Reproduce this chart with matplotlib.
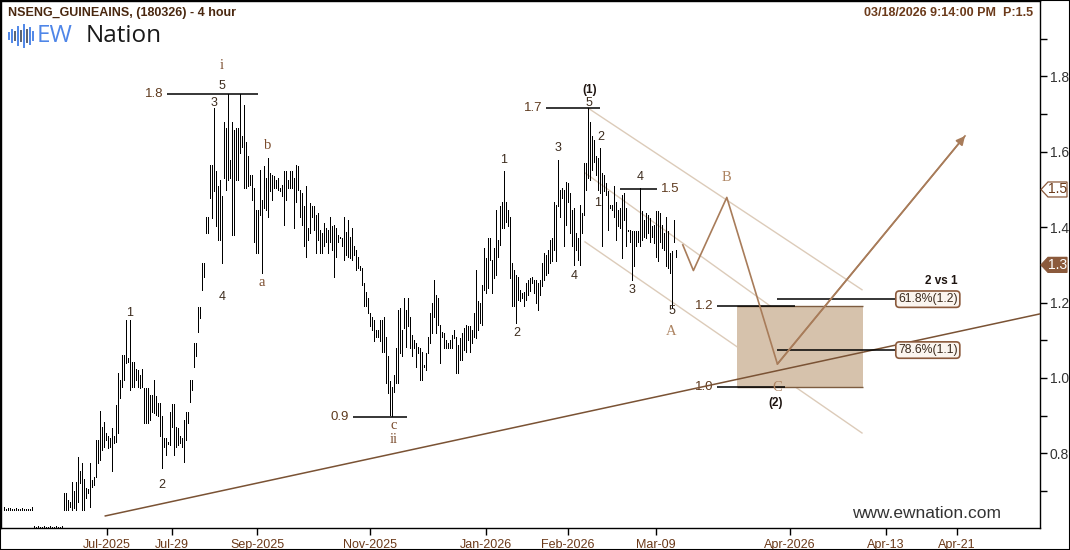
import numpy as np
import matplotlib as mpl
mpl.use('Agg')
import matplotlib.pyplot as plt
from matplotlib.patches import Rectangle, Polygon
from matplotlib.lines import Line2D

mpl.rcParams['font.family'] = ['Liberation Sans', 'DejaVu Sans']

#=========================================================================
# data : 4-hour high/low bars, x = bar number
#=========================================================================
title = 'NSENG_GUINEAINS, (180326) - 4 hour'
stamp = '03/18/2026 9:14:00 PM  P:1.5'
first_bar = -30

highs = [
    # flat start
    0.657, 0.653, 0.656, 0.656, 0.653, 0.652, 0.656, 0.653, 0.652, 0.656,
    0.653, 0.652, 0.653, 0.652, 0.658, 0.606, 0.605, 0.606, 0.605, 0.605,
    0.606, 0.605, 0.605, 0.606, 0.605, 0.605, 0.606, 0.605, 0.605, 0.606,
    # rally to i
    0.694, 0.694, 0.677, 0.672, 0.725, 0.700, 0.725, 0.791, 0.752, 0.774,
    0.731, 0.708, 0.705, 0.774, 0.730, 0.738, 0.836, 0.836, 0.913, 0.871,
    0.884, 0.853, 0.845, 0.840, 0.867, 0.845, 0.929, 1.012, 0.995, 1.061,
    1.061, 1.154, 1.052, 1.154, 1.043, 1.043, 1.023, 1.021, 1.008, 1.023,
    0.973, 0.973, 0.973, 0.955, 0.955, 0.995, 0.951, 0.933, 0.933, 0.898,
    0.840, 0.840, 0.831, 0.911, 0.930, 0.930, 0.871, 0.867, 0.845, 0.840,
    0.889, 0.911, 0.911, 0.995, 0.995, 1.092, 1.092, 1.189, 1.189,
    1.306, 1.306, 1.428, 1.428, 1.566, 1.566, 1.716, 1.548, 1.508, 1.526,
    1.482, 1.680, 1.663, 1.753, 1.579, 1.680, 1.658, 1.663, 1.663, 1.753,
    # a-b-c down to ii
    1.641, 1.725, 1.627, 1.588, 1.539, 1.539, 1.504, 1.446, 1.446, 1.552,
    1.473, 1.561, 1.530, 1.583, 1.543, 1.539, 1.535, 1.526, 1.530, 1.504,
    1.512, 1.548, 1.548, 1.526, 1.548, 1.548, 1.530, 1.566, 1.561, 1.499,
    1.490, 1.455, 1.508, 1.398, 1.464, 1.455, 1.455, 1.433, 1.437, 1.393,
    1.384, 1.411, 1.398, 1.393,
    1.428, 1.402, 1.406, 1.397, 1.380, 1.375, 1.371, 1.428, 1.388, 1.419,
    1.375, 1.397, 1.349, 1.340, 1.322, 1.296, 1.291, 1.251, 1.229, 1.212,
    1.172, 1.163, 1.154, 1.128, 1.128, 1.154, 1.154, 1.163, 1.110, 1.057,
    0.991, 0.977, 1.008, 1.079, 1.181, 1.185, 1.128, 1.212, 1.181, 1.212,
    1.163, 1.114, 1.101, 1.092, 1.083, 1.079, 1.070, 1.035, 1.066, 1.110,
    1.172, 1.198, 1.260, 1.220, 1.212, 1.141, 1.123, 1.119, 1.101, 1.092,
    1.101, 1.114, 1.128, 1.110, 1.088, 1.106, 1.119, 1.132, 1.141, 1.137,
    # wave (1)
    1.137, 1.128, 1.172, 1.287, 1.203, 1.198, 1.247, 1.344, 1.318, 1.371,
    1.371, 1.313, 1.344, 1.446, 1.366, 1.455, 1.468, 1.548, 1.468, 1.446,
    1.428, 1.305, 1.287, 1.274, 1.269, 1.234, 1.225, 1.229, 1.251, 1.260,
    1.265, 1.269, 1.261, 1.261, 1.252, 1.261, 1.305, 1.331, 1.327, 1.340,
    1.367, 1.371, 1.468, 1.459, 1.579, 1.499, 1.504, 1.499, 1.521, 1.517,
    1.490, 1.446, 1.451, 1.384, 1.371, 1.459, 1.437, 1.570, 1.570, 1.716,
    # wave A
    1.680, 1.641, 1.632, 1.588, 1.583, 1.610, 1.543, 1.539, 1.517, 1.495,
    1.459, 1.459, 1.508, 1.468, 1.446, 1.451, 1.486, 1.490, 1.451, 1.393,
    1.393, 1.389, 1.389, 1.389, 1.389, 1.504, 1.442, 1.420, 1.437, 1.433,
    1.424, 1.402, 1.406, 1.442, 1.442, 1.437, 1.406, 1.384, 1.428, 1.389,
    1.331, 1.336, 1.420, 1.340]

lows = [
    0.650, 0.650, 0.650, 0.650, 0.650, 0.650, 0.650, 0.650, 0.650, 0.650,
    0.650, 0.650, 0.650, 0.650, 0.650, 0.603, 0.603, 0.603, 0.603, 0.603,
    0.603, 0.603, 0.603, 0.603, 0.603, 0.603, 0.603, 0.603, 0.603, 0.603,
    0.650, 0.650, 0.650, 0.659, 0.650, 0.655, 0.650, 0.672, 0.721, 0.650,
    0.650, 0.681, 0.694, 0.659, 0.712, 0.716, 0.738, 0.774, 0.783, 0.809,
    0.818, 0.836, 0.814, 0.818, 0.752, 0.827, 0.831, 0.853, 0.946, 0.977,
    0.995, 1.039, 1.043, 0.968, 0.977, 0.977, 0.995, 0.977, 0.973, 0.977,
    0.880, 0.880, 0.880, 0.889, 0.911, 0.906, 0.902, 0.898, 0.845, 0.761,
    0.818, 0.796, 0.825, 0.822, 0.871, 0.796, 0.818, 0.822, 0.827, 0.818,
    0.778, 0.836, 0.880, 0.937, 0.968, 1.030, 1.057, 1.123, 1.158,
    1.234, 1.269, 1.384, 1.384, 1.477, 1.424, 1.495, 1.402, 1.367, 1.367,
    1.305, 1.530, 1.499, 1.526, 1.530, 1.380, 1.380, 1.526, 1.526, 1.596,
    1.614, 1.504, 1.504, 1.508, 1.512, 1.473, 1.362, 1.331, 1.331, 1.433,
    1.278, 1.451, 1.446, 1.428, 1.495, 1.473, 1.504, 1.504, 1.499, 1.495,
    1.482, 1.406, 1.473, 1.504, 1.504, 1.504, 1.398, 1.468, 1.499, 1.428,
    1.406, 1.349, 1.322, 1.367, 1.384, 1.428, 1.393, 1.331, 1.367, 1.331,
    1.331, 1.349, 1.362, 1.331,
    1.362, 1.340, 1.269, 1.322, 1.362, 1.371, 1.349, 1.313, 1.327, 1.322,
    1.318, 1.313, 1.327, 1.287, 1.291, 1.287, 1.247, 1.190, 1.190, 1.172,
    1.137, 1.128, 1.097, 1.110, 1.110, 1.097, 1.070, 1.070, 0.986, 0.960,
    0.902, 0.898, 0.964, 0.986, 0.986, 1.066, 1.057, 1.132, 1.083, 1.137,
    1.079, 1.057, 1.079, 1.030, 1.066, 0.995, 0.995, 1.030, 1.022, 1.066,
    1.092, 1.119, 1.163, 1.119, 1.141, 1.039, 1.110, 1.079, 1.079, 1.079,
    1.079, 1.079, 1.106, 1.013, 1.013, 1.048, 1.048, 1.075, 1.070, 1.101,
    1.070, 1.092, 1.110, 1.106, 1.128, 1.145, 1.141, 1.234, 1.225, 1.238,
    1.313, 1.225, 1.265, 1.274, 1.322, 1.353, 1.397, 1.397, 1.415, 1.402,
    1.265, 1.190, 1.190, 1.145, 1.207, 1.203, 1.212, 1.190, 1.207, 1.220,
    1.230, 1.252, 1.225, 1.199, 1.181, 1.221, 1.243, 1.261, 1.274, 1.278,
    1.305, 1.309, 1.340, 1.309, 1.455, 1.428, 1.477, 1.349, 1.406, 1.468,
    1.384, 1.349, 1.300, 1.340, 1.314, 1.300, 1.384, 1.433, 1.499, 1.530,
    1.526, 1.552, 1.574, 1.539, 1.499, 1.490, 1.349, 1.495, 1.486, 1.393,
    1.451, 1.446, 1.428, 1.367, 1.402, 1.398, 1.318, 1.420, 1.349, 1.389,
    1.362, 1.261, 1.296, 1.349, 1.362, 1.349, 1.367, 1.375, 1.371, 1.384,
    1.362, 1.375, 1.358, 1.322, 1.309, 1.362, 1.345, 1.340, 1.296, 1.291,
    1.278, 1.185, 1.362, 1.322]

# date axis (bar numbers of the labelled dates)
tick_bars   = [21.5, 54, 96.5, 153, 211, 252, 296, 363, 411, 446.5]
tick_labels = ['Jul-2025', 'Jul-29', 'Sep-2025', 'Nov-2025', 'Jan-2026',
               'Feb-2026', 'Mar-09', 'Apr-2026', 'Apr-13', 'Apr-21']

# projected path A-B-C then up
proj_x = [309.4, 314.7, 331.4, 356.7]
proj_y = [1.353, 1.285, 1.479, 1.037]
arrow_end = (450.5, 1.642)

# price levels : (value, from bar, to bar, label)
levels = [(1.753,  51.5,  97.0, '1.8'),
          (1.716, 241.0, 268.0, '1.7'),
          (1.502, 278.0, 296.5, '1.5'),
          (0.897, 144.5, 171.5, '0.9'),
          (1.190, 326.5, 365.5, '1.2'),
          (0.977, 326.5, 360.5, '1.0')]

# fib retracement of wave (1)
fib_vals   = [1.209, 1.074]
fib_labels = ['61.8%(1.2)', '78.6%(1.1)']
fib_from, fib_to = 356.5, 415.5

# target zone
zone_x0, zone_x1 = 336.5, 399.5
zone_lo, zone_hi = 0.975, 1.192

# trend line and descending channel
trend_x = [20.65, 488.0]
trend_y = [0.634, 1.170]
chan_x  = [[262.0, 399.0], [260.5, 399.0], [260.5, 399.0]]
chan_y  = [[1.716, 1.234], [1.544, 1.016], [1.361, 0.854]]

# wave counts : (text, bar, price, kind)
waves = [('i',   79.0, 1.828, 'rom'), ('5',   79.0, 1.775, 'num'),
         ('3',   75.0, 1.730, 'num'), ('b',  102.0, 1.616, 'rom'),
         ('a',   99.0, 1.252, 'rom'), ('4',   79.0, 1.215, 'num'),
         ('1',   33.0, 1.173, 'num'), ('2',   49.0, 0.716, 'num'),
         ('c',  165.0, 0.873, 'rom'), ('ii', 165.0, 0.836, 'rom'),
         ('1',  220.0, 1.578, 'num'), ('2',  226.5, 1.120, 'num'),
         ('3',  247.0, 1.610, 'num'), ('4',  255.0, 1.271, 'num'),
         ('(1)', 263.0, 1.764, 'bold'), ('5', 262.5, 1.730, 'num'),
         ('2',  268.5, 1.640, 'num'), ('1',  267.0, 1.464, 'num'),
         ('4',  288.0, 1.533, 'num'), ('3',  284.0, 1.234, 'num'),
         ('5',  304.0, 1.178, 'num'), ('A',  303.5, 1.122, 'abc'),
         ('B',  331.0, 1.533, 'abc'), ('C',  356.5, 0.976, 'abc'),
         ('(2)', 356.0, 0.934, 'bold')]

last_price = 1.3
p_price = 1.5

#=========================================================================
brown  = '#5e3a1e'
dbrown = '#3b2a1c'
tan    = '#ad8462'
styles = {'num':  dict(color=dbrown, fontsize=9),
          'rom':  dict(color='#7a4b2c', fontsize=10.5, family='Liberation Serif'),
          'abc':  dict(color=tan, fontsize=10.5, family='Liberation Serif'),
          'bold': dict(color='#1e1410', fontsize=8.5, fontweight='bold')}

fig = plt.figure(figsize=(10.7, 5.5), dpi=100, facecolor='w')
ax = fig.add_axes([1/1070, 22/550, 1039/1070, 527/550])
ax.set_xlim(-31.5, 488)
ax.set_ylim(0.602, 2.0)

bar_x = np.arange(first_bar, first_bar + len(highs))
ax.vlines(bar_x, lows, highs, colors='black', linewidth=0.72, antialiased=False, zorder=3)

# channel
for cx, cy in zip(chan_x, chan_y):
    ax.plot(cx, cy, color='#dccbb9', lw=1.0, zorder=1)

# target zone
ax.add_patch(Rectangle((zone_x0, zone_lo), zone_x1 - zone_x0, zone_hi - zone_lo,
                       facecolor='#d6c2ac', edgecolor='none', zorder=2))
ax.hlines([zone_lo, zone_hi], zone_x0, zone_x1, colors='#7d5c40', lw=1.0, zorder=2)

# trend line
ax.plot(trend_x, trend_y, color='#7a5234', lw=1.1, zorder=4)

# levels
for v, x0, x1, lab in levels:
    ax.hlines(v, x0, x1, colors='black', lw=1.1, zorder=5)
    if lab == '1.5':
        ax.text(x1 + 2, v, lab, ha='left', va='center', color=brown, fontsize=9.5)
    else:
        ax.text(x0 - 2, v, lab, ha='right', va='center', color=brown, fontsize=9.5)

# fib
for v, lab in zip(fib_vals, fib_labels):
    ax.hlines(v, fib_from, fib_to, colors='black', lw=1.1, zorder=5)
    ax.text(fib_to + 1.5, v, lab, ha='left', va='center', color=dbrown, fontsize=8.8,
            bbox=dict(boxstyle='round,pad=0.18,rounding_size=0.3', fc='#fbf5ef',
                      ec='#8b5a3c', lw=1.2), zorder=6)
ax.text(438.5, 1.258, '2 vs 1', ha='center', va='center', color='#1e1410',
        fontsize=8.5, fontweight='bold')

# projection
ax.plot(proj_x + [arrow_end[0]], proj_y + [arrow_end[1]], color='#a87c5a', lw=1.2, zorder=5)
ax.annotate('', xy=arrow_end, xytext=(proj_x[-1], proj_y[-1]),
            arrowprops=dict(arrowstyle='-|>', color='#a87c5a', lw=1.2,
                            mutation_scale=13, shrinkA=0, shrinkB=0), zorder=5)

# wave labels
for txt, x, y, kind in waves:
    ax.text(x, y, txt, ha='center', va='center', zorder=7, **styles[kind])

# axes
for s in ax.spines.values():
    s.set_color('black')
    s.set_linewidth(1.0)
ax.yaxis.tick_right()
ax.set_yticks([0.8, 1.0, 1.2, 1.4, 1.6, 1.8])
ax.set_yticklabels(['0.8', '1.0', '1.2', '1.4', '1.6', '1.8'])
ax.set_yticks([0.7, 0.9, 1.1, 1.3, 1.5, 1.7, 1.9], minor=True)
ax.tick_params(axis='y', which='both', direction='out', length=5, width=1,
               labelsize=10, labelcolor='#333333', pad=2)
ax.set_xticks(tick_bars)
ax.set_xticklabels(tick_labels)
ax.tick_params(axis='x', direction='out', length=5, width=1, labelsize=9,
               labelcolor='#6b3a1a', pad=3)

# price tags on the right axis (pointed boxes in pixel units)
W, H = 1070.0, 550.0
for v, fc, tc in [(p_price, 'white', '#6b3a1a'), (last_price, '#8b5a3c', 'white')]:
    yc = ax.transData.transform((0, v))[1]
    pts = [(1041, yc), (1048, yc + 7.5), (1067, yc + 7.5), (1067, yc - 7.5), (1048, yc - 7.5)]
    fig.add_artist(Polygon([(px / W, py / H) for px, py in pts], closed=True,
                           transform=fig.transFigure, fc=fc, ec='#8b5a3c', lw=0.9))
    fig.text(1057.5 / W, yc / H, '%.1f' % v, ha='center', va='center',
             fontsize=10, color=tc)

# header, logo, footer
fig.text(8/W, 1 - 13/H, title, ha='left', va='center', fontsize=9,
         fontweight='bold', color='#4a2810')
fig.text(1033/W, 1 - 13/H, stamp, ha='right', va='center', fontsize=9,
         fontweight='bold', color='#6b3a1a')
logo_h = [6, 12, 8, 18, 10, 22, 12, 16, 8]
logo_c = ['#4f86e8', '#4f86e8', '#5a6170', '#4f86e8', '#5a6170',
          '#4f86e8', '#5a6170', '#4f86e8', '#4f86e8']
for k, (h, c) in enumerate(zip(logo_h, logo_c)):
    xx = (9 + 3 * k) / W
    fig.add_artist(Line2D([xx, xx], [1 - (36 - h / 2) / H, 1 - (36 + h / 2) / H],
                          transform=fig.transFigure, color=c, lw=1.4))
fig.text(37/W, 1 - 36/H, 'EW', ha='left', va='center', fontsize=17.5,
         color='#4f86e8', family=['Open Sans', 'Liberation Sans'], fontweight='medium')
fig.text(86/W, 1 - 36/H, 'Nation', ha='left', va='center', fontsize=17.5,
         color='#1a1a1a', family=['Open Sans', 'Liberation Sans'], fontweight='medium')
fig.text(927/W, 1 - 514/H, 'www.ewnation.com', ha='center', va='center',
         fontsize=12.5, color='#333333')

fig.add_artist(Rectangle((0, 0), 1, 1, transform=fig.transFigure, fill=False,
                         edgecolor='black', lw=1.5))

plt.savefig('out.png', dpi=100)
